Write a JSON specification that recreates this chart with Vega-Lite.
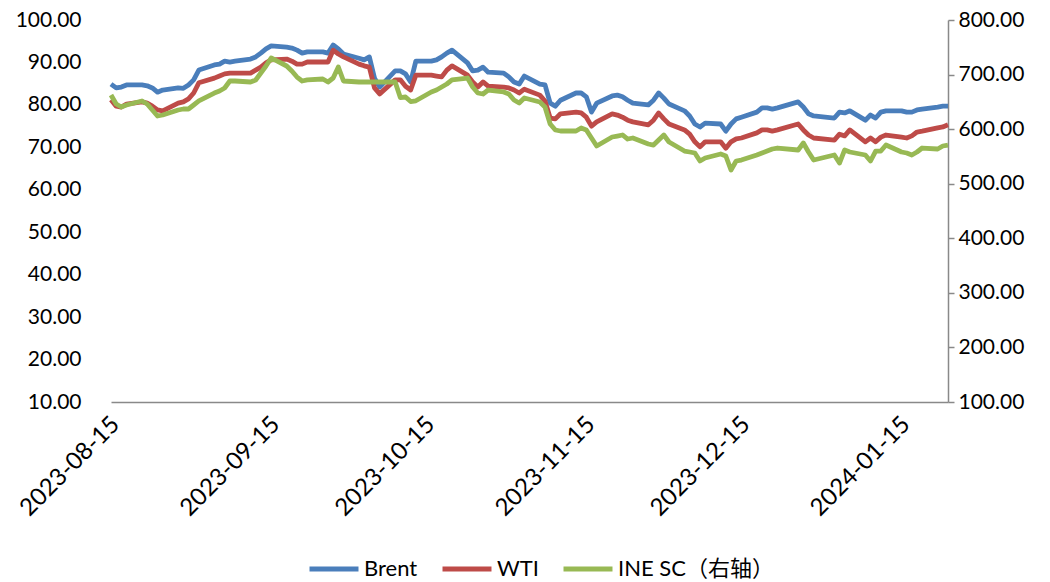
{
  "$schema": "https://vega.github.io/schema/vega-lite/v6.json",
  "width": 837,
  "height": 382,
  "autosize": {"type": "none"},
  "padding": {"left": 111, "top": 20, "right": 102, "bottom": 180},
  "background": "white",
  "config": {
    "view": {"stroke": null},
    "font": "Lato, Noto Sans CJK SC",
    "axis": {"labelFont": "Lato, Noto Sans CJK SC", "labelColor": "#000000", "grid": false, "title": null},
    "legend": {"labelFont": "Lato, Noto Sans CJK SC"}
  },
  "data": {
    "values": [
      {"date": "2023-08-15", "Brent": 84.9, "WTI": 81.2, "SC": 662.6},
      {"date": "2023-08-16", "Brent": 84.0, "WTI": 79.7, "SC": 646.1},
      {"date": "2023-08-17", "Brent": 84.2, "WTI": 79.5, "SC": 640.6},
      {"date": "2023-08-18", "Brent": 84.7, "WTI": 80.2, "SC": 644.2},
      {"date": "2023-08-21", "Brent": 84.7, "WTI": 80.7, "SC": 651.6},
      {"date": "2023-08-22", "Brent": 84.5, "WTI": 80.4, "SC": 646.1},
      {"date": "2023-08-23", "Brent": 84.0, "WTI": 79.7, "SC": 635.1},
      {"date": "2023-08-24", "Brent": 83.0, "WTI": 78.8, "SC": 624.1},
      {"date": "2023-08-25", "Brent": 83.5, "WTI": 78.6, "SC": 625.9},
      {"date": "2023-08-28", "Brent": 84.0, "WTI": 80.4, "SC": 635.1},
      {"date": "2023-08-29", "Brent": 83.9, "WTI": 80.7, "SC": 636.9},
      {"date": "2023-08-30", "Brent": 84.7, "WTI": 81.4, "SC": 636.9},
      {"date": "2023-08-31", "Brent": 85.9, "WTI": 82.8, "SC": 644.2},
      {"date": "2023-09-01", "Brent": 88.2, "WTI": 85.2, "SC": 651.6},
      {"date": "2023-09-04", "Brent": 89.4, "WTI": 86.3, "SC": 666.2},
      {"date": "2023-09-05", "Brent": 89.6, "WTI": 86.8, "SC": 669.9},
      {"date": "2023-09-06", "Brent": 90.3, "WTI": 87.3, "SC": 675.4},
      {"date": "2023-09-07", "Brent": 90.1, "WTI": 87.5, "SC": 688.2},
      {"date": "2023-09-08", "Brent": 90.3, "WTI": 87.5, "SC": 688.2},
      {"date": "2023-09-11", "Brent": 90.8, "WTI": 87.5, "SC": 686.4},
      {"date": "2023-09-12", "Brent": 91.3, "WTI": 88.2, "SC": 690.1},
      {"date": "2023-09-13", "Brent": 92.2, "WTI": 88.9, "SC": 702.9},
      {"date": "2023-09-14", "Brent": 93.2, "WTI": 89.9, "SC": 715.7},
      {"date": "2023-09-15", "Brent": 93.9, "WTI": 90.6, "SC": 730.4},
      {"date": "2023-09-18", "Brent": 93.6, "WTI": 90.8, "SC": 715.7},
      {"date": "2023-09-19", "Brent": 93.4, "WTI": 90.3, "SC": 706.5},
      {"date": "2023-09-20", "Brent": 92.9, "WTI": 89.6, "SC": 695.5},
      {"date": "2023-09-21", "Brent": 92.2, "WTI": 89.6, "SC": 688.2},
      {"date": "2023-09-22", "Brent": 92.5, "WTI": 90.1, "SC": 690.1},
      {"date": "2023-09-25", "Brent": 92.5, "WTI": 90.1, "SC": 691.9},
      {"date": "2023-09-26", "Brent": 92.2, "WTI": 90.1, "SC": 686.4},
      {"date": "2023-09-27", "Brent": 94.1, "WTI": 92.9, "SC": 693.7},
      {"date": "2023-09-28", "Brent": 93.2, "WTI": 92.0, "SC": 713.9},
      {"date": "2023-09-29", "Brent": 92.0, "WTI": 91.3, "SC": 688.2},
      {"date": "2023-10-02", "Brent": 91.0, "WTI": 89.6, "SC": 686.4},
      {"date": "2023-10-03", "Brent": 90.6, "WTI": 89.2, "SC": 686.4},
      {"date": "2023-10-04", "Brent": 91.3, "WTI": 88.9, "SC": 686.4},
      {"date": "2023-10-05", "Brent": 86.3, "WTI": 84.0, "SC": 686.4},
      {"date": "2023-10-06", "Brent": 84.2, "WTI": 82.6, "SC": 686.4},
      {"date": "2023-10-09", "Brent": 88.0, "WTI": 85.9, "SC": 686.4},
      {"date": "2023-10-10", "Brent": 88.0, "WTI": 85.9, "SC": 657.9},
      {"date": "2023-10-11", "Brent": 87.3, "WTI": 84.4, "SC": 658.9},
      {"date": "2023-10-12", "Brent": 85.4, "WTI": 83.5, "SC": 650.6},
      {"date": "2023-10-13", "Brent": 90.3, "WTI": 87.0, "SC": 652.0},
      {"date": "2023-10-16", "Brent": 90.3, "WTI": 87.0, "SC": 668.1},
      {"date": "2023-10-17", "Brent": 90.6, "WTI": 86.8, "SC": 671.7},
      {"date": "2023-10-18", "Brent": 91.3, "WTI": 86.6, "SC": 677.2},
      {"date": "2023-10-19", "Brent": 92.2, "WTI": 88.2, "SC": 682.7},
      {"date": "2023-10-20", "Brent": 92.9, "WTI": 89.2, "SC": 690.1},
      {"date": "2023-10-23", "Brent": 89.9, "WTI": 87.0, "SC": 693.7},
      {"date": "2023-10-24", "Brent": 88.0, "WTI": 85.4, "SC": 677.2},
      {"date": "2023-10-25", "Brent": 88.2, "WTI": 84.2, "SC": 666.2},
      {"date": "2023-10-26", "Brent": 88.9, "WTI": 85.4, "SC": 664.4},
      {"date": "2023-10-27", "Brent": 87.7, "WTI": 84.4, "SC": 671.7},
      {"date": "2023-10-30", "Brent": 87.5, "WTI": 84.2, "SC": 668.1},
      {"date": "2023-10-31", "Brent": 86.6, "WTI": 84.0, "SC": 664.4},
      {"date": "2023-11-01", "Brent": 85.4, "WTI": 83.5, "SC": 653.4},
      {"date": "2023-11-02", "Brent": 84.9, "WTI": 82.8, "SC": 647.9},
      {"date": "2023-11-03", "Brent": 86.8, "WTI": 83.7, "SC": 657.1},
      {"date": "2023-11-06", "Brent": 84.9, "WTI": 82.3, "SC": 649.7},
      {"date": "2023-11-07", "Brent": 84.7, "WTI": 80.9, "SC": 640.6},
      {"date": "2023-11-08", "Brent": 80.4, "WTI": 76.9, "SC": 609.4},
      {"date": "2023-11-09", "Brent": 79.7, "WTI": 76.7, "SC": 598.4},
      {"date": "2023-11-10", "Brent": 81.1, "WTI": 77.9, "SC": 596.6},
      {"date": "2023-11-13", "Brent": 82.8, "WTI": 78.3, "SC": 596.6},
      {"date": "2023-11-14", "Brent": 82.8, "WTI": 78.1, "SC": 602.1},
      {"date": "2023-11-15", "Brent": 81.9, "WTI": 77.1, "SC": 598.4},
      {"date": "2023-11-16", "Brent": 78.3, "WTI": 75.0, "SC": 583.8},
      {"date": "2023-11-17", "Brent": 80.4, "WTI": 76.0, "SC": 569.1},
      {"date": "2023-11-20", "Brent": 82.1, "WTI": 77.9, "SC": 585.6},
      {"date": "2023-11-21", "Brent": 82.3, "WTI": 77.6, "SC": 587.4},
      {"date": "2023-11-22", "Brent": 81.9, "WTI": 77.1, "SC": 589.3},
      {"date": "2023-11-23", "Brent": 81.1, "WTI": 76.4, "SC": 581.9},
      {"date": "2023-11-24", "Brent": 80.4, "WTI": 76.0, "SC": 583.8},
      {"date": "2023-11-27", "Brent": 80.0, "WTI": 75.3, "SC": 572.8},
      {"date": "2023-11-28", "Brent": 81.1, "WTI": 76.4, "SC": 570.9},
      {"date": "2023-11-29", "Brent": 82.8, "WTI": 78.1, "SC": 580.1},
      {"date": "2023-11-30", "Brent": 81.6, "WTI": 76.7, "SC": 589.3},
      {"date": "2023-12-01", "Brent": 80.2, "WTI": 75.5, "SC": 576.4},
      {"date": "2023-12-04", "Brent": 78.6, "WTI": 74.1, "SC": 559.9},
      {"date": "2023-12-05", "Brent": 77.4, "WTI": 73.1, "SC": 558.1},
      {"date": "2023-12-06", "Brent": 75.5, "WTI": 71.3, "SC": 556.3},
      {"date": "2023-12-07", "Brent": 74.8, "WTI": 70.1, "SC": 541.6},
      {"date": "2023-12-08", "Brent": 75.7, "WTI": 71.3, "SC": 547.1},
      {"date": "2023-12-11", "Brent": 75.5, "WTI": 71.3, "SC": 554.4},
      {"date": "2023-12-12", "Brent": 73.8, "WTI": 69.8, "SC": 550.8},
      {"date": "2023-12-13", "Brent": 75.5, "WTI": 71.3, "SC": 525.1},
      {"date": "2023-12-14", "Brent": 76.7, "WTI": 72.0, "SC": 541.6},
      {"date": "2023-12-15", "Brent": 77.1, "WTI": 72.2, "SC": 543.4},
      {"date": "2023-12-18", "Brent": 78.3, "WTI": 73.4, "SC": 552.6},
      {"date": "2023-12-19", "Brent": 79.3, "WTI": 74.1, "SC": 556.3},
      {"date": "2023-12-20", "Brent": 79.3, "WTI": 74.1, "SC": 559.9},
      {"date": "2023-12-21", "Brent": 79.0, "WTI": 73.8, "SC": 563.6},
      {"date": "2023-12-22", "Brent": 79.3, "WTI": 74.1, "SC": 565.4},
      {"date": "2023-12-26", "Brent": 80.7, "WTI": 75.5, "SC": 561.8},
      {"date": "2023-12-27", "Brent": 79.5, "WTI": 74.1, "SC": 574.6},
      {"date": "2023-12-28", "Brent": 77.9, "WTI": 72.9, "SC": 558.1},
      {"date": "2023-12-29", "Brent": 77.4, "WTI": 72.2, "SC": 543.4},
      {"date": "2024-01-02", "Brent": 76.9, "WTI": 71.7, "SC": 552.6},
      {"date": "2024-01-03", "Brent": 78.3, "WTI": 73.1, "SC": 537.9},
      {"date": "2024-01-04", "Brent": 78.1, "WTI": 72.7, "SC": 561.8},
      {"date": "2024-01-05", "Brent": 78.6, "WTI": 74.1, "SC": 558.1},
      {"date": "2024-01-08", "Brent": 76.4, "WTI": 71.3, "SC": 552.6},
      {"date": "2024-01-09", "Brent": 77.6, "WTI": 72.2, "SC": 541.6},
      {"date": "2024-01-10", "Brent": 76.9, "WTI": 71.3, "SC": 559.9},
      {"date": "2024-01-11", "Brent": 78.3, "WTI": 72.4, "SC": 559.9},
      {"date": "2024-01-12", "Brent": 78.6, "WTI": 72.9, "SC": 570.9},
      {"date": "2024-01-15", "Brent": 78.6, "WTI": 72.4, "SC": 558.1},
      {"date": "2024-01-16", "Brent": 78.3, "WTI": 72.2, "SC": 556.3},
      {"date": "2024-01-17", "Brent": 78.3, "WTI": 72.7, "SC": 552.6},
      {"date": "2024-01-18", "Brent": 78.8, "WTI": 73.6, "SC": 558.1},
      {"date": "2024-01-19", "Brent": 79.0, "WTI": 73.8, "SC": 565.4},
      {"date": "2024-01-22", "Brent": 79.5, "WTI": 74.6, "SC": 563.6},
      {"date": "2024-01-23", "Brent": 79.7, "WTI": 74.8, "SC": 569.1},
      {"date": "2024-01-24", "Brent": 79.7, "WTI": 75.3, "SC": 570.9}
    ]
  },
  "encoding": {
    "x": {
      "field": "date",
      "type": "temporal",
      "scale": {
        "type": "utc",
        "nice": false,
        "domain": [
          {"year": 2023, "month": 8, "date": 15, "utc": true},
          {"year": 2024, "month": 1, "date": 24, "utc": true}
        ]
      },
      "axis": {
        "values": [
          {"year": 2023, "month": 8, "date": 15, "utc": true},
          {"year": 2023, "month": 9, "date": 15, "utc": true},
          {"year": 2023, "month": 10, "date": 15, "utc": true},
          {"year": 2023, "month": 11, "date": 15, "utc": true},
          {"year": 2023, "month": 12, "date": 15, "utc": true},
          {"year": 2024, "month": 1, "date": 15, "utc": true}
        ],
        "format": "%Y-%m-%d",
        "labelAngle": -45,
        "labelFontSize": 24,
        "labelPadding": 10,
        "labelOffset": -4,
        "ticks": false,
        "domainColor": "#898989",
        "domainWidth": 1.5,
        "labelFlush": false,
        "labelOverlap": false
      }
    }
  },
  "layer": [
    {
      "transform": [{"fold": ["Brent", "WTI"], "as": ["series", "value"]}],
      "mark": {"type": "line", "strokeWidth": 4.8, "strokeJoin": "round"},
      "encoding": {
        "y": {
          "field": "value",
          "type": "quantitative",
          "scale": {"domain": [10, 100], "nice": false, "zero": false},
          "axis": {
            "orient": "left",
            "values": [10, 20, 30, 40, 50, 60, 70, 80, 90, 100],
            "format": ".2f",
            "labelFontSize": 21,
            "labelPadding": 30,
            "domain": false,
            "ticks": false
          }
        },
        "color": {
          "field": "series",
          "type": "nominal",
          "scale": {
            "domain": ["Brent", "WTI", "INE SC（右轴）"],
            "range": ["#4A7EBB", "#BE4B48", "#98B954"]
          },
          "legend": {
            "title": null,
            "orient": "none",
            "direction": "horizontal",
            "legendX": 196,
            "legendY": 522,
            "symbolType": "stroke",
            "symbolStrokeWidth": 5,
            "symbolSize": 2400,
            "labelFontSize": 22,
            "labelColor": "#000000",
            "columnPadding": 14,
            "labelOffset": 3
          }
        }
      }
    },
    {
      "mark": {"type": "line", "strokeWidth": 4.8, "strokeJoin": "round"},
      "encoding": {
        "y": {
          "field": "SC",
          "type": "quantitative",
          "scale": {"domain": [100, 800], "nice": false, "zero": false},
          "axis": {
            "orient": "right",
            "values": [100, 200, 300, 400, 500, 600, 700, 800],
            "format": ".2f",
            "labelFontSize": 21,
            "labelPadding": 4,
            "domainColor": "#898989",
            "domainWidth": 1.5,
            "tickColor": "#898989",
            "tickWidth": 1.5,
            "tickSize": 6
          }
        },
        "color": {"datum": "INE SC（右轴）"}
      }
    }
  ],
  "resolve": {"scale": {"y": "independent"}}
}
